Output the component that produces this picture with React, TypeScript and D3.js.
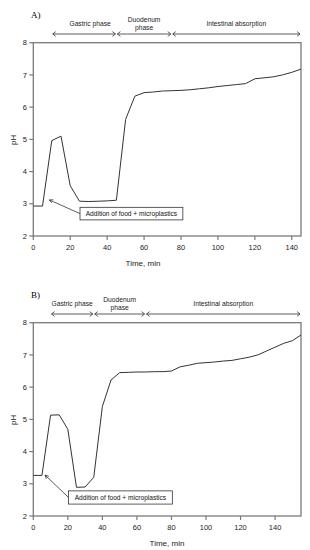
import * as d3 from 'd3';

// panel A: pH over time
const timesA = [0, 5, 10, 15, 20, 25, 30, 35, 40, 45, 50, 55, 60, 65, 70, 75, 80, 85, 90, 95, 100, 105, 110, 115, 120, 125, 130, 135, 140, 145];
const phA = [2.93, 2.93, 4.96, 5.1, 3.56, 3.08, 3.07, 3.08, 3.09, 3.11, 5.62, 6.34, 6.45, 6.47, 6.5, 6.51, 6.52, 6.54, 6.57, 6.6, 6.64, 6.67, 6.7, 6.73, 6.88, 6.91, 6.94, 7.0, 7.08, 7.18];

// panel B: pH over time
const timesB = [0, 5, 10, 15, 20, 25, 30, 35, 40, 45, 50, 55, 60, 65, 70, 75, 80, 85, 90, 95, 100, 105, 110, 115, 120, 125, 130, 135, 140, 145, 150, 155];
const phB = [3.26, 3.26, 5.13, 5.14, 4.69, 2.89, 2.9, 3.2, 5.4, 6.22, 6.45, 6.46, 6.47, 6.47, 6.48, 6.48, 6.5, 6.63, 6.68, 6.74, 6.76, 6.78, 6.81, 6.83, 6.88, 6.93, 7.0, 7.12, 7.24, 7.36, 7.44, 7.62];

const phaseNames = ['Gastric phase', 'Duodenum|phase', 'Intestinal absorption'];
const phaseBoundsA = [10, 45, 75, 145];
const phaseBoundsB = [10, 35, 65, 155];

const xTicks = [0, 20, 40, 60, 80, 100, 120, 140];
const yTicks = [2, 3, 4, 5, 6, 7, 8];

const noteText = 'Addition of food + microplastics';

const W = 310;
const H = 550;
const left = 33.3;
const right = 301;
const sans = '"Liberation Sans", Arial, sans-serif';
const axisColor = '#7a7a7a';
const inkColor = '#333';

interface PanelProps {
  label: string;
  top: number;
  times: number[];
  ph: number[];
  maxTime: number;
  bounds: number[];
  note: { tipT: number; tipPh: number; boxT0: number; boxT1: number; boxTop: number; boxBottom: number };
  titleX: number;
}

function chevron(x: number, y: number, dir: number, key: string) {
  const s = 3;
  return (
    <path
      key={key}
      d={`M${x + dir * s},${y - s * 0.8} L${x},${y} L${x + dir * s},${y + s * 0.8}`}
      fill="none"
      stroke={inkColor}
      strokeWidth={0.8}
    />
  );
}

function Panel({ label, top, times, ph, maxTime, bounds, note, titleX }: PanelProps) {
  const yTop = top + 42.7;
  const yBot = top + 236;
  const x = d3.scaleLinear().domain([0, maxTime]).range([left, right]);
  const y = d3.scaleLinear().domain([2, 8]).range([yBot, yTop]);

  const line = d3.line<number>()
    .x((_, i) => x(times[i]))
    .y(d => y(d));

  const arrowY = top + 34;

  // annotation arrow
  const tx = x(note.tipT);
  const ty = y(note.tipPh);
  const bx = x(note.boxT0);
  const by = (y(note.boxTop) + y(note.boxBottom)) / 2;
  const ang = Math.atan2(by - ty, bx - tx);
  const ah = 4;
  const a1 = [tx + ah * Math.cos(ang - 0.45), ty + ah * Math.sin(ang - 0.45)];
  const a2 = [tx + ah * Math.cos(ang + 0.45), ty + ah * Math.sin(ang + 0.45)];

  return (
    <g>
      <text x={31} y={top + 18} fontFamily='"Liberation Serif", "Times New Roman", serif' fontSize={9}>{label}</text>

      {phaseNames.map((name, i) => {
        const x0 = x(bounds[i]) + 1;
        const x1 = x(bounds[i + 1]) - 1;
        const mid = (x0 + x1) / 2 + (i === 0 ? titleX : 0);
        const parts = name.split('|');
        return (
          <g key={name}>
            <line x1={x0} x2={x1} y1={arrowY} y2={arrowY} stroke={inkColor} strokeWidth={0.8} />
            {chevron(x0, arrowY, 1, 'l')}
            {chevron(x1, arrowY, -1, 'r')}
            {parts.length === 1 ? (
              <text x={mid} y={top + 26.3} textAnchor="middle" fontFamily={sans} fontSize={6.7} fill="#222">{name}</text>
            ) : (
              <text textAnchor="middle" fontFamily={sans} fontSize={6.7} fill="#222">
                <tspan x={mid} y={top + 21.6}>{parts[0]}</tspan>
                <tspan x={mid} y={top + 30.3}>{parts[1]}</tspan>
              </text>
            )}
          </g>
        );
      })}

      {/* frame */}
      <rect x={left} y={yTop} width={right - left} height={yBot - yTop} fill="none" stroke={axisColor} strokeWidth={1.3} />

      {yTicks.map(t => (
        <g key={`y${t}`}>
          <line x1={left - 4} x2={left} y1={y(t)} y2={y(t)} stroke={axisColor} strokeWidth={1.2} />
          <text x={27} y={y(t)} dy="0.35em" textAnchor="end" fontFamily={sans} fontSize={7.5} fill="#222">{t}</text>
        </g>
      ))}

      {xTicks.map(t => (
        <g key={`x${t}`}>
          <line x1={x(t)} x2={x(t)} y1={yBot} y2={yBot + 4} stroke={axisColor} strokeWidth={1.2} />
          <text x={x(t)} y={yBot + 14} textAnchor="middle" fontFamily={sans} fontSize={7.5} fill="#222">{t}</text>
        </g>
      ))}

      <text
        transform={`translate(12.7,${(yTop + yBot) / 2 + 0.5}) rotate(-90)`}
        textAnchor="middle"
        dy="0.35em"
        fontFamily={sans}
        fontSize={8}
        fill="#222"
      >pH</text>
      <text x={label === 'A)' ? 143 : 167} y={yBot + 30} textAnchor="middle" fontFamily={sans} fontSize={8} fill="#222">Time, min</text>

      <path d={line(ph) || ''} fill="none" stroke={inkColor} strokeWidth={1} />

      {/* annotation */}
      <line x1={bx} y1={by} x2={tx} y2={ty} stroke={inkColor} strokeWidth={0.8} />
      <path d={`M${a1[0]},${a1[1]} L${tx},${ty} L${a2[0]},${a2[1]}`} fill="none" stroke={inkColor} strokeWidth={0.8} />
      <rect
        x={bx}
        y={y(note.boxTop)}
        width={x(note.boxT1) - bx}
        height={y(note.boxBottom) - y(note.boxTop)}
        fill="#fff"
        stroke={inkColor}
        strokeWidth={0.8}
      />
      <text
        x={(bx + x(note.boxT1)) / 2}
        y={by}
        dy="0.35em"
        textAnchor="middle"
        fontFamily={sans}
        fontSize={6.6}
        fill="#111"
      >{noteText}</text>
    </g>
  );
}

export default function App() {
  return (
    <div style={{ position: 'absolute', left: 0, top: 0 }}>
      <svg width={W} height={H} style={{ display: 'block', background: '#fff' }}>
        <Panel
          label="A)"
          top={0}
          times={timesA}
          ph={phA}
          maxTime={145}
          bounds={phaseBoundsA}
          titleX={6}
          note={{ tipT: 8.7, tipPh: 3.12, boxT0: 25.3, boxT1: 81, boxTop: 2.89, boxBottom: 2.5 }}
        />
        <Panel
          label="B)"
          top={280}
          times={timesB}
          ph={phB}
          maxTime={155}
          bounds={phaseBoundsB}
          titleX={0}
          note={{ tipT: 6.8, tipPh: 3.27, boxT0: 20.4, boxT1: 80.5, boxTop: 2.78, boxBottom: 2.37 }}
        />
      </svg>
    </div>
  );
}
